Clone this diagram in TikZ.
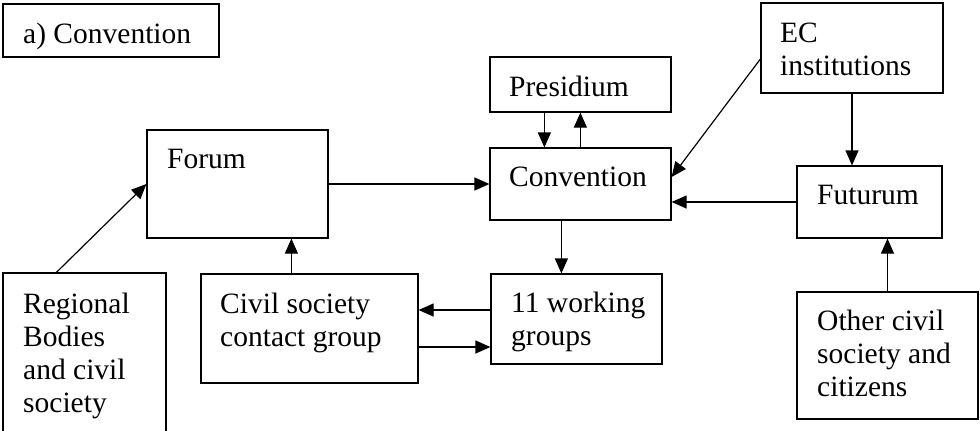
\documentclass[tikz,border=0pt]{standalone}
\usepackage{fontspec}
\setmainfont{Liberation Serif}
\usetikzlibrary{arrows.meta}
\tikzset{
  box/.style={draw,line width=1.2pt,inner sep=0pt,minimum width=#1},
  txt/.style={inner sep=0pt,anchor=base west,align=left,font=\fontsize{29.5}{33}\selectfont},
  arr/.style={line width=1.2pt,-{Triangle[length=15pt,width=13pt]}}
}
\begin{document}
\begin{tikzpicture}[x=1pt,y=-1pt]
\useasboundingbox (0,0) rectangle (980,431);
% boxes
\node[box=216pt,minimum height=53pt] (title) at (111,30.5) {};
\node[box=181pt,minimum height=108pt] (forum) at (237.5,184) {};
\node[box=181pt,minimum height=55pt] (presidium) at (580.5,84.5) {};
\node[box=181pt,minimum height=72pt] (convention) at (580.5,184) {};
\node[box=182pt,minimum height=90pt] (ec) at (852,48) {};
\node[box=145pt,minimum height=72pt] (futurum) at (869.5,202) {};
\node[box=181pt,minimum height=127pt] (other) at (887.5,355.5) {};
\node[box=163pt,minimum height=172pt] (regional) at (84.5,359) {};
\node[box=217pt,minimum height=109pt] (civil) at (309.5,328.5) {};
\node[box=171pt,minimum height=90pt] (groups) at (576.5,319) {};
% texts (multi-line ones sit on the baseline of their last line)
\node[txt] (titletxt) at (23,43) {a) Convention};
\node[txt] (forumtxt) at (167,168) {Forum};
\node[txt] (presidiumtxt) at (509,96) {Presidium};
\node[txt] (conventiontxt) at (509,186) {Convention};
\node[txt] (ectxt) at (780,75) {EC\\institutions};
\node[txt] (futurumtxt) at (817,204) {Futurum};
\node[txt] (othertxt) at (817,396) {Other civil\\society and\\citizens};
\node[txt] (regionaltxt) at (23,412) {Regional\\Bodies\\and civil\\society};
\node[txt] (civiltxt) at (220,346) {Civil society\\contact group};
\node[txt] (groupstxt) at (511,345) {11 working\\groups};
% arrows
\draw[arr] ([xshift=54pt]regional.north west) -- (forum.west);
\draw[arr] ([xshift=91pt]civil.north west) coordinate (c1) -- (c1 |- forum.south);
\draw[arr] (forum.east) -- (forum.east -| convention.west);
\draw[arr] ([xshift=55pt]presidium.south west) coordinate (p1) -- (p1 |- convention.north);
\draw[arr] ([xshift=91pt]convention.north west) coordinate (p2) -- (p2 |- presidium.south);
\draw[arr] ([yshift=-11pt]ec.west) -- ([yshift=7pt]convention.east);
\draw[arr] (ec.south) -- (ec.south |- futurum.north);
\draw[arr] (futurum.west) -- (futurum.west -| convention.east);
\draw[arr] (other.north) -- (other.north |- futurum.south);
\draw[arr] ([xshift=72pt]convention.south west) coordinate (g1) -- (g1 |- groups.north);
\draw[arr] ([yshift=9pt]groups.west) coordinate (g2) -- (g2 -| civil.east);
\draw[arr] ([yshift=-18.5pt]civil.east) coordinate (g3) -- (g3 -| groups.west);
\end{tikzpicture}
\end{document}
